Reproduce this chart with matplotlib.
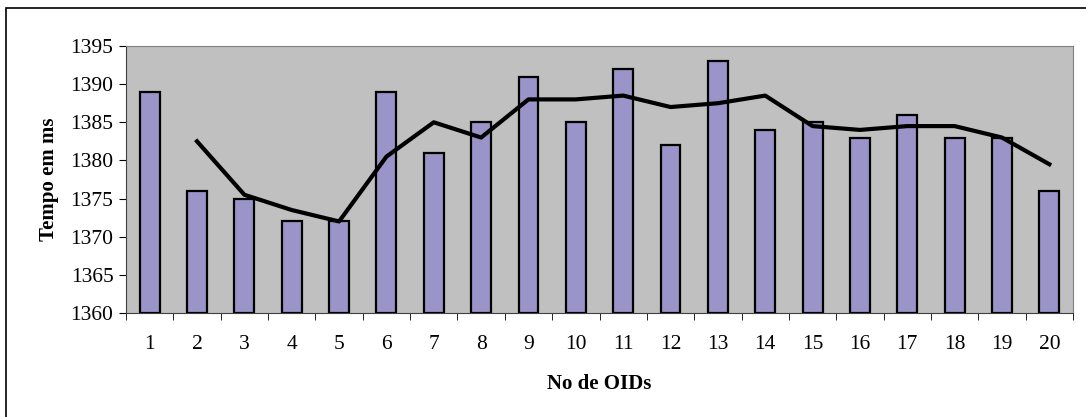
import matplotlib.pyplot as plt
from matplotlib.patches import Rectangle
import numpy as np

# tempos medidos por quantidade de OIDs
oids = list(range(1, 21))
tempos = [1389, 1376, 1375, 1372, 1372, 1389, 1381, 1385, 1391, 1385,
          1392, 1382, 1393, 1384, 1385, 1383, 1386, 1383, 1383, 1376]
# media movel (2 periodos), a partir do OID 2
media_x = list(range(2, 21))
media = [1382.5, 1375.5, 1373.5, 1372, 1380.5, 1385, 1383, 1388, 1388, 1388.5,
         1387, 1387.5, 1388.5, 1384.5, 1384, 1384.5, 1384.5, 1383, 1379.5]

plt.rcParams['font.family'] = ['Liberation Serif', 'DejaVu Serif']

fig = plt.figure(figsize=(10.86, 4.17), dpi=100)
fig.patch.set_facecolor('white')
# moldura do grafico
fig.patches.append(Rectangle((6/1086, -0.1), 1.2, 1 - 8/417 + 0.1,
                             transform=fig.transFigure, fill=False,
                             edgecolor='black', linewidth=1.2))

ax = fig.add_axes([126/1086, 1 - 313/417, (1073-126)/1086, (313-46)/417])
ax.set_facecolor('#C0C0C0')

ax.bar(oids, [t - 1360 for t in tempos], bottom=1360, width=0.42,
       color='#9B94C8', edgecolor='black', linewidth=1.6, zorder=2)
ax.plot(media_x, media, color='black', linewidth=3, zorder=3)

ax.set_xlim(0.5, 20.5)
ax.set_ylim(1360, 1395)
ax.set_yticks(np.arange(1360, 1396, 5))
ax.set_xticks(oids)
ax.set_xticks(np.arange(0.5, 21, 1), minor=True)
ax.tick_params(axis='x', which='major', length=0, pad=16, labelsize=15.5)
ax.tick_params(axis='x', which='minor', length=5, direction='out', color='black')
ax.tick_params(axis='y', length=5, direction='out', labelsize=15.5, pad=4)

for s in ['top', 'right']:
    ax.spines[s].set_color('#808080')
for s in ['left', 'bottom']:
    ax.spines[s].set_color('#404040')

ax.set_ylabel('Tempo em ms', fontsize=15, fontweight='bold', labelpad=8)
ax.set_xlabel('No de OIDs', fontsize=15, fontweight='bold', labelpad=14)

fig.savefig('out.png', dpi=100)
